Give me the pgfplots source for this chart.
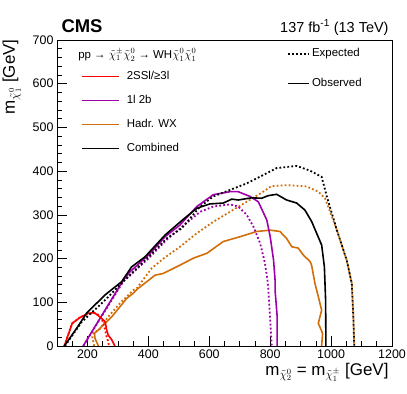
\documentclass[border=0pt]{standalone}
\usepackage{fontspec}
\setmainfont{Liberation Sans}
\usepackage{pgfplots}
\pgfplotsset{compat=1.18}
\definecolor{cmsred}{RGB}{255,0,0}
\definecolor{cmspurple}{RGB}{160,0,170}
\definecolor{cmsorange}{RGB}{210,110,10}
\tikzset{obs/.style={line width=1.6bp},
  exp/.style={line width=1.8bp, dash pattern=on 1.8bp off 2.2bp}}

\begin{document}
\begin{tikzpicture}
\useasboundingbox (-57bp,-48bp) rectangle (350bp,346bp);
\begin{axis}[
  at={(0,0)}, anchor=south west,
  width=335bp, height=306bp, scale only axis,
  clip mode=individual,
  xmin=100, xmax=1200, ymin=0, ymax=700,
  xtick={200,400,...,1200}, ytick={0,100,...,700},
  minor xtick={100,150,...,1200}, minor ytick={0,20,...,700},
  tick align=inside, xtick pos=bottom, ytick pos=left,
  major tick length=10bp, minor tick length=5bp,
  tick style={black, line width=0.6bp},
  axis line style={line width=0.8bp},
  tick label style={font=\fontsize{12.5}{14}\selectfont},
  /pgf/number format/assume math mode=true,
  /pgf/number format/1000 sep={},
  xlabel={m$_{\tilde{\chi}^{0}_{2}}$ = m$_{\tilde{\chi}^{\pm}_{1}}$ [GeV]},
  xlabel style={at={(axis description cs:1,0)}, anchor=base east, yshift=-29bp,
    font=\fontsize{17}{20}\selectfont},
  ylabel={m$_{\tilde{\chi}^{0}_{1}}$ [GeV]},
  ylabel style={at={(axis description cs:-0.1254,1.013)}, anchor=base east, rotate=0,
    font=\fontsize{17}{20}\selectfont},
  legend style={at={(axis description cs:0.0716,0.899)}, anchor=north west,
    draw=none, fill=none, font=\fontsize{11.5}{13}\selectfont,
    row sep=13bp, column sep=7bp, inner sep=0pt,
    nodes={inner sep=0pt, text height=8.5bp, text depth=2.5bp}},
  legend cell align=left,
  legend image code/.code={\draw[#1] (0bp,0bp) -- (37bp,0bp);},
]
\addlegendimage{cmsred, obs}
\addlegendentry{2SSl/≥3l}
\addlegendimage{cmspurple, obs}
\addlegendentry{1l 2b}
\addlegendimage{cmsorange, obs}
\addlegendentry{Hadr. WX}
\addlegendimage{black, obs}
\addlegendentry{Combined}

% Hadr. WX
\addplot[cmsorange, exp, forget plot] coordinates {
(222,0)(216,20)(220,30)(240,38)(268,67)(307,98)(351,128)(362,132)(411,178)
(455,203)(504,227)(559,258)(613,284)(668,307)(723,330)(777,353)(805,366)
(854,368)(920,365)(958,353)(980,338)(1007,288)(1019,265)(1051,197)
(1068,143)(1073,67)(1076,0)};
\addplot[cmsorange, obs, forget plot] coordinates {
(236,0)(225,17)(223,29)(236,37)(258,52)(280,67)(307,90)(329,109)(351,121)
(367,132)(422,162)(449,166)(504,185)(548,201)(592,212)(646,239)(701,250)
(756,262)(800,265)(832,262)(854,246)(871,227)(892,224)(909,208)(931,193)
(936,185)(947,143)(958,113)(969,82)(958,52)(972,29)(969,0)};

% 1l 2b
\addplot[cmspurple, exp, forget plot] coordinates {
(186,0)(318,148)(400,200)(460,243)(504,269)(570,307)(613,319)(668,324)
(695,319)(723,300)(745,273)(767,235)(783,189)(791,151)(794,128)(800,59)(805,0)};
\addplot[cmspurple, obs, forget plot] coordinates {
(186,0)(318,151)(340,170)(400,208)(455,250)(504,277)(559,319)(613,346)
(668,353)(695,353)(734,342)(761,330)(789,288)(800,250)(811,197)(816,151)
(816,128)(823,67)(823,0)};

% 2SSl/>=3l
\addplot[cmsred, obs, forget plot] coordinates {
(124,0)(150,52)(175,65)(203,75)(223,76)(236,69)(258,56)(263,37)(268,25)
(280,14)(290,0)};
\addplot[cmsred, exp, forget plot] coordinates {
(124,0)(150,52)(175,65)(203,74)(225,75)(240,70)(247,63)(252,52)(258,37)
(263,21)(268,10)(271,0)};

% Combined
\addplot[black, exp, forget plot] coordinates {
(126,0)(181,55)(258,105)(307,140)(389,196)(460,246)(509,269)(570,319)
(613,342)(668,357)(723,372)(777,391)(821,407)(887,412)(931,401)(969,387)
(986,342)(1019,265)(1051,197)(1068,143)(1073,67)(1076,0)};
\addplot[black, obs, forget plot] coordinates {
(124,0)(168,44)(197,75)(258,117)(312,147)(345,181)(389,204)(455,254)
(515,290)(559,315)(602,325)(646,327)(674,336)(695,334)(739,339)(772,338)
(794,344)(821,347)(854,334)(887,327)(914,311)(936,285)(969,231)(978,181)
(982,105)(983,0)};

\node[anchor=base west, font=\bfseries\fontsize{18.5}{20}\selectfont]
  at (axis description cs:0.003,1.026) {CMS};
\node[anchor=base east, font=\fontsize{14.5}{16}\selectfont]
  at (axis description cs:1,1.026) {137 fb\textsuperscript{-1} (13 TeV)};
\node[anchor=base west, font=\fontsize{11.5}{13}\selectfont, inner sep=0pt]
  at (axis description cs:0.063,0.941)
  {pp → $\tilde{\chi}^{\pm}_{1}\tilde{\chi}^{0}_{2}$ → WH$\tilde{\chi}^{0}_{1}\tilde{\chi}^{0}_{1}$};
\end{axis}

\begin{axis}[
  at={(0,0)}, anchor=south west,
  width=335bp, height=306bp, scale only axis,
  xmin=0, xmax=1, ymin=0, ymax=1, hide axis,
  legend style={at={(axis description cs:0.6866,0.974)}, anchor=north west,
    draw=none, fill=none, font=\fontsize{11.5}{13}\selectfont,
    row sep=19bp, column sep=2bp, inner sep=0pt,
    nodes={inner sep=0pt, text height=8.5bp, text depth=2.5bp}},
  legend cell align=left,
  legend image code/.code={\draw[#1] (0bp,0bp) -- (21bp,0bp);},
]
\addlegendimage{black, exp}
\addlegendentry{Expected}
\addlegendimage{black, obs}
\addlegendentry{Observed}
\end{axis}
\end{tikzpicture}
\end{document}
